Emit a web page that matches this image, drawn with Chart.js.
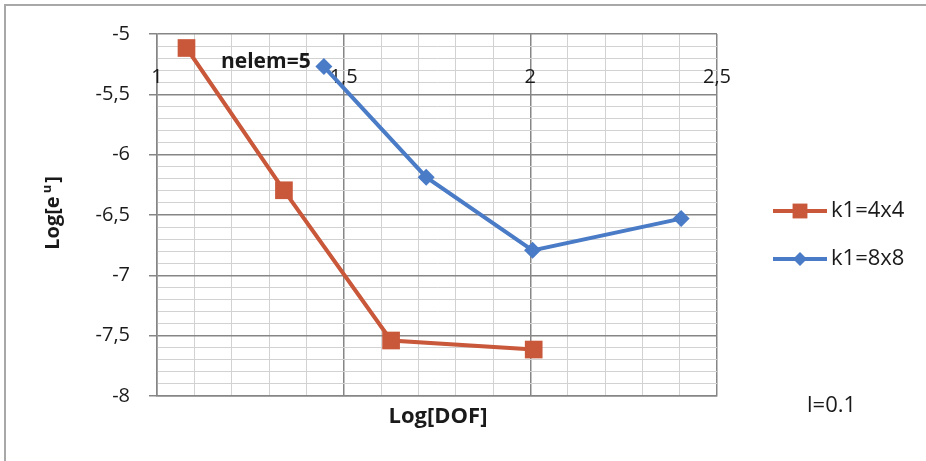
<!DOCTYPE html>
<html>
<head>
<meta charset="utf-8">
<script src="https://cdn.jsdelivr.net/npm/chart.js@4/dist/chart.umd.min.js"></script>
<style>
  html, body { margin: 0; padding: 0; background: #ffffff; }
  #wrap { position: relative; width: 926px; height: 461px; }
</style>
</head>
<body>
<div id="wrap"><canvas id="c"></canvas></div>
<script>
// Convergence of the error norm against degrees of freedom (log-log)
const seriesNames = ['k1=4x4', 'k1=8x8'];
const logDofK4 = [1.079, 1.340, 1.627, 2.009];
const logErrK4 = [-5.116, -6.295, -7.540, -7.615];
const logDofK8 = [1.447, 1.721, 2.006, 2.404];
const logErrK8 = [-5.270, -6.187, -6.793, -6.530];
const xRange = [1, 2.5];
const yRange = [-8, -5];
const annotationText = 'nelem=5';
const noteText = 'l=0.1';

const RED = '#C9573A';
const BLUE = '#4A7BC6';
const FONT = '"Open Sans", "DejaVu Sans", sans-serif';

const isMajor = v => Math.round(v * 10) % 5 === 0;
const fmt = v => String(Math.round(v * 10) / 10).replace('.', ',');

function pts(xs, ys) { return xs.map((x, i) => ({ x: x, y: ys[i] })); }

const decorations = {
  id: 'decorations',
  beforeDraw(chart) {
    const ctx = chart.ctx;
    ctx.save();
    ctx.strokeStyle = '#a8a8a8';
    ctx.lineWidth = 2;
    ctx.beginPath();
    ctx.moveTo(5, 461);
    ctx.lineTo(5, 5);
    ctx.lineTo(926, 5);
    ctx.stroke();
    ctx.restore();
  },
  beforeDatasetsDraw(chart) {
    // horizontal axis labels sit just inside the top of the plot area
    const ctx = chart.ctx;
    const xs = chart.scales.x;
    const area = chart.chartArea;
    ctx.save();
    ctx.fillStyle = '#1a1a1a';
    ctx.font = '20px ' + FONT;
    ctx.textAlign = 'center';
    ctx.textBaseline = 'middle';
    xs.ticks.forEach(t => {
      if (isMajor(t.value)) {
        ctx.fillText(fmt(t.value), xs.getPixelForValue(t.value), area.top + 43);
      }
    });
    ctx.restore();
  },
  afterDatasetsDraw(chart) {
    const ctx = chart.ctx;
    const area = chart.chartArea;
    ctx.save();
    ctx.fillStyle = '#1a1a1a';

    // annotation inside the plot
    ctx.font = 'bold 21px ' + FONT;
    ctx.textAlign = 'left';
    ctx.textBaseline = 'middle';
    ctx.fillText(annotationText, 221, 62);

    // axis titles
    ctx.font = 'bold 22px ' + FONT;
    ctx.textAlign = 'center';
    ctx.fillText('Log[DOF]', 438, 417);

    ctx.save();
    ctx.translate(53, 213);
    ctx.rotate(-Math.PI / 2);
    const a = 'Log[e', b = 'u', c = ']';
    ctx.font = 'bold 20px ' + FONT;
    const wa = ctx.measureText(a).width;
    const wc = ctx.measureText(c).width;
    ctx.font = 'bold 13px ' + FONT;
    const wb = ctx.measureText(b).width + 5;
    const total = wa + wb + wc;
    const x0 = -total / 2;
    ctx.textAlign = 'left';
    ctx.font = 'bold 20px ' + FONT;
    ctx.fillText(a, x0, 0);
    ctx.font = 'bold 13px ' + FONT;
    ctx.fillText(b, x0 + wa + 3, -6);
    ctx.font = 'bold 20px ' + FONT;
    ctx.fillText(c, x0 + wa + wb, 0);
    ctx.restore();

    // legend
    const rows = [211, 259];
    chart.data.datasets.forEach((ds, i) => {
      const y = rows[i];
      ctx.strokeStyle = ds.borderColor;
      ctx.lineWidth = 4;
      ctx.beginPath();
      ctx.moveTo(773, y);
      ctx.lineTo(827, y);
      ctx.stroke();
      ctx.fillStyle = ds.backgroundColor;
      Chart.helpers.drawPoint(ctx, {
        pointStyle: ds.pointStyle,
        radius: ds.pointStyle === 'rect' ? 10.5 : 7,
        borderWidth: 0
      }, 800, y);
      ctx.fillStyle = '#1a1a1a';
      ctx.font = '22px ' + FONT;
      ctx.textAlign = 'left';
      ctx.textBaseline = 'middle';
      ctx.fillText(ds.label, 831, y);
    });

    ctx.font = '22px ' + FONT;
    ctx.fillText(noteText, 807, 406);
    ctx.restore();
  }
};

new Chart(document.getElementById('c'), {
  type: 'scatter',
  data: {
    datasets: [
      {
        label: seriesNames[0],
        data: pts(logDofK4, logErrK4),
        showLine: true,
        borderColor: RED,
        backgroundColor: RED,
        borderWidth: 4,
        pointStyle: 'rect',
        pointRadius: 12.5,
        pointHoverRadius: 12.5,
        pointBorderWidth: 0
      },
      {
        label: seriesNames[1],
        data: pts(logDofK8, logErrK8),
        showLine: true,
        borderColor: BLUE,
        backgroundColor: BLUE,
        borderWidth: 4,
        pointStyle: 'rectRot',
        pointRadius: 8.5,
        pointHoverRadius: 8.5,
        pointBorderWidth: 0
      }
    ]
  },
  options: {
    responsive: true,
    maintainAspectRatio: false,
    animation: false,
    layout: { padding: { left: 0, top: 34, right: 209, bottom: 65 } },
    plugins: { legend: { display: false }, tooltip: { enabled: false } },
    scales: {
      x: {
        type: 'linear',
        position: 'bottom',
        min: xRange[0],
        max: xRange[1],
        ticks: { stepSize: 0.1, display: false, autoSkip: false },
        grid: {
          drawTicks: false,
          color: ctx => isMajor(ctx.tick.value) ? '#868686' : '#d2d2d2',
          lineWidth: ctx => isMajor(ctx.tick.value) ? 1.5 : 1
        },
        border: { display: true, color: '#868686', width: 1.5 },
        afterFit(scale) { scale.height = 0; }
      },
      y: {
        type: 'linear',
        min: yRange[0],
        max: yRange[1],
        ticks: {
          stepSize: 0.1,
          autoSkip: false,
          padding: 19,
          color: '#1a1a1a',
          font: { family: FONT, size: 20 },
          callback: v => isMajor(v) ? fmt(v) : ''
        },
        grid: {
          tickLength: 8,
          color: ctx => isMajor(ctx.tick.value) ? '#868686' : '#d2d2d2',
          tickColor: ctx => isMajor(ctx.tick.value) ? '#868686' : 'rgba(0,0,0,0)',
          lineWidth: ctx => isMajor(ctx.tick.value) ? 1.5 : 1
        },
        border: { display: true, color: '#868686', width: 1.5 },
        afterFit(scale) { scale.width = 157; }
      }
    }
  },
  plugins: [decorations]
});
</script>
</body>
</html>
